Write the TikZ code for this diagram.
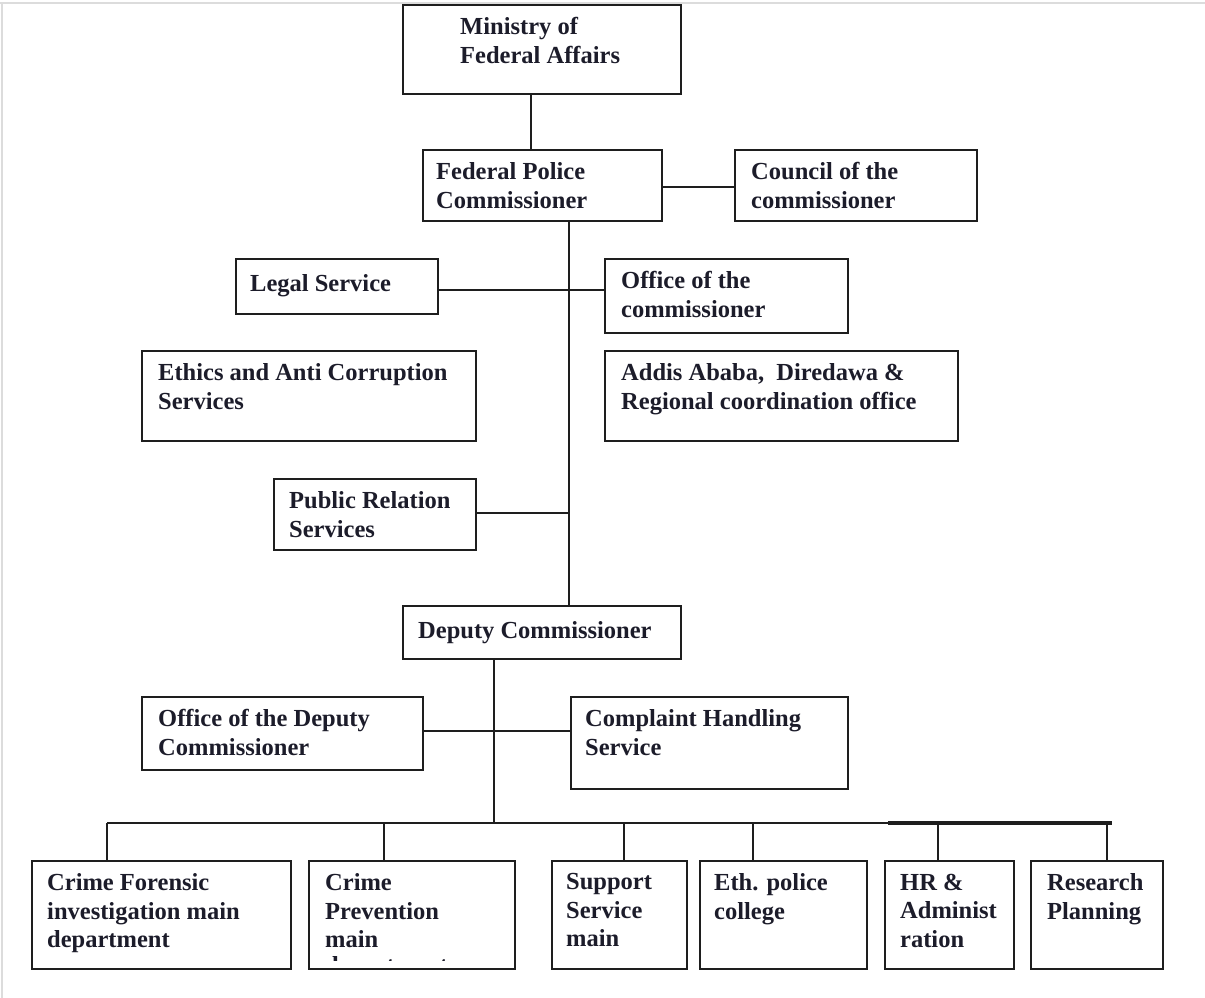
\documentclass[tikz,border=0pt]{standalone}
\usepackage{fontspec}
\setmainfont{Liberation Serif}
\definecolor{txtc}{RGB}{28,28,42}
\definecolor{linec}{RGB}{30,30,30}
\definecolor{framec}{RGB}{220,220,220}
\tikzset{
  box/.style={draw=linec, line width=2.4pt, rectangle, inner sep=0pt, anchor=north west, fill=white},
  lbl/.style={anchor=north west, inner sep=0pt, align=left, text=txtc,
     font=\bfseries\fontsize{24.5}{28.5}\selectfont, execute at begin node=\strut},
  conn/.style={draw=linec, line width=2pt},
}
% name, x1, y1, x2, y2, text x offset, text
\newcommand\orgbox[7]{%
  \node[box, minimum width={(#4-#2)*1pt}, minimum height={(#5-#3)*1pt}] (#1) at (#2,#3) {};
  \node[lbl] (#1t) at ([xshift=#6pt, yshift=-13.5pt]#1.north west) {#7};
}
\begin{document}
\begin{tikzpicture}[x=1pt, y=-1pt]
\useasboundingbox (0,0) rectangle (1205,998);
\fill[white] (0,0) rectangle (1205,998);
\draw[framec, line width=1.5pt] (0,3) -- (1205,3);
\draw[framec, line width=1.5pt] (2,3) -- (2,998);

% helper coordinates for connector lines
\coordinate (busL) at (107,823);
\coordinate (busM) at (888,823);
\coordinate (busR) at (1112,823);
\coordinate (d1) at (107,823);
\coordinate (d2) at (384,823);
\coordinate (d3) at (624,823);
\coordinate (d4) at (753,823);
\coordinate (d5) at (938,823);
\coordinate (d6) at (1107,823);

% connectors (drawn first, boxes on top)
\coordinate (mfaS) at (531,93);
\coordinate (fpcN) at (531,149);
\draw[conn] (mfaS) -- (fpcN);
\coordinate (fpcS) at (569,220);
\coordinate (depN) at (569,605);
\draw[conn] (fpcS) -- (depN);
\coordinate (fpcE) at (661,187);
\coordinate (cocW) at (734,187);
\draw[conn] (fpcE) -- (cocW);
\coordinate (legE) at (437,290);
\coordinate (oocW) at (604,290);
\draw[conn] (legE) -- (oocW);
\coordinate (prE) at (475,513);
\coordinate (prJ) at (569,513);
\draw[conn] (prE) -- (prJ);
\coordinate (depS) at (494,658);
\coordinate (busT) at (494,823);
\draw[conn] (depS) -- (busT);
\coordinate (odcE) at (422,731);
\coordinate (chsW) at (570,731);
\draw[conn] (odcE) -- (chsW);
\draw[conn] (busL) -- (busR);
\draw[conn, line width=3.2pt] (busM) -- (busR);
\foreach \d in {d1,d2,d3,d4,d5,d6} { \draw[conn] (\d) -- ++(0,37); }

% boxes
\orgbox{mfa}{402}{4}{680}{93}{58}{Ministry of\\Federal Affairs}
\orgbox{fpc}{422}{149}{661}{220}{14}{Federal Police\\Commissioner}
\orgbox{coc}{734}{149}{976}{220}{17}{Council of the\\commissioner}
\orgbox{leg}{235}{258}{437}{313}{15}{Legal Service}
\orgbox{ooc}{604}{258}{847}{332}{17}{Office of the\\commissioner}
\orgbox{eth}{141}{350}{475}{440}{17}{Ethics and Anti Corruption\\Services}
\orgbox{add}{604}{350}{957}{440}{17}{Addis Ababa, \ Diredawa \&\\Regional coordination office}
\orgbox{pr}{273}{478}{475}{549}{16}{Public Relation\\Services}
\orgbox{dep}{402}{605}{680}{658}{16}{Deputy Commissioner}
\orgbox{odc}{141}{696}{422}{769}{17}{Office of the Deputy\\Commissioner}
\orgbox{chs}{570}{696}{847}{788}{15}{Complaint Handling\\Service}
\orgbox{b1}{31}{860}{290}{968}{16}{Crime Forensic\\investigation main\\department}
\orgbox{b2}{308}{860}{514}{968}{17}{Crime\\Prevention\\main}
\begin{scope}
  \clip (310,862) rectangle (512,960.5);
  \node[anchor=base west, inner sep=0pt, text=txtc, font=\bfseries\fontsize{24.5}{28.5}\selectfont] (b2x) at (325,973.5) {department};
\end{scope}
\orgbox{b3}{551}{860}{686}{968}{15}{Support\\Service\\main}
\orgbox{b4}{699}{860}{866}{968}{15}{Eth. police\\college}
\orgbox{b5}{884}{860}{1013}{968}{16}{HR \&\\Administ\\ration}
\orgbox{b6}{1030}{860}{1162}{968}{17}{Research\\Planning}
\end{tikzpicture}
\end{document}
